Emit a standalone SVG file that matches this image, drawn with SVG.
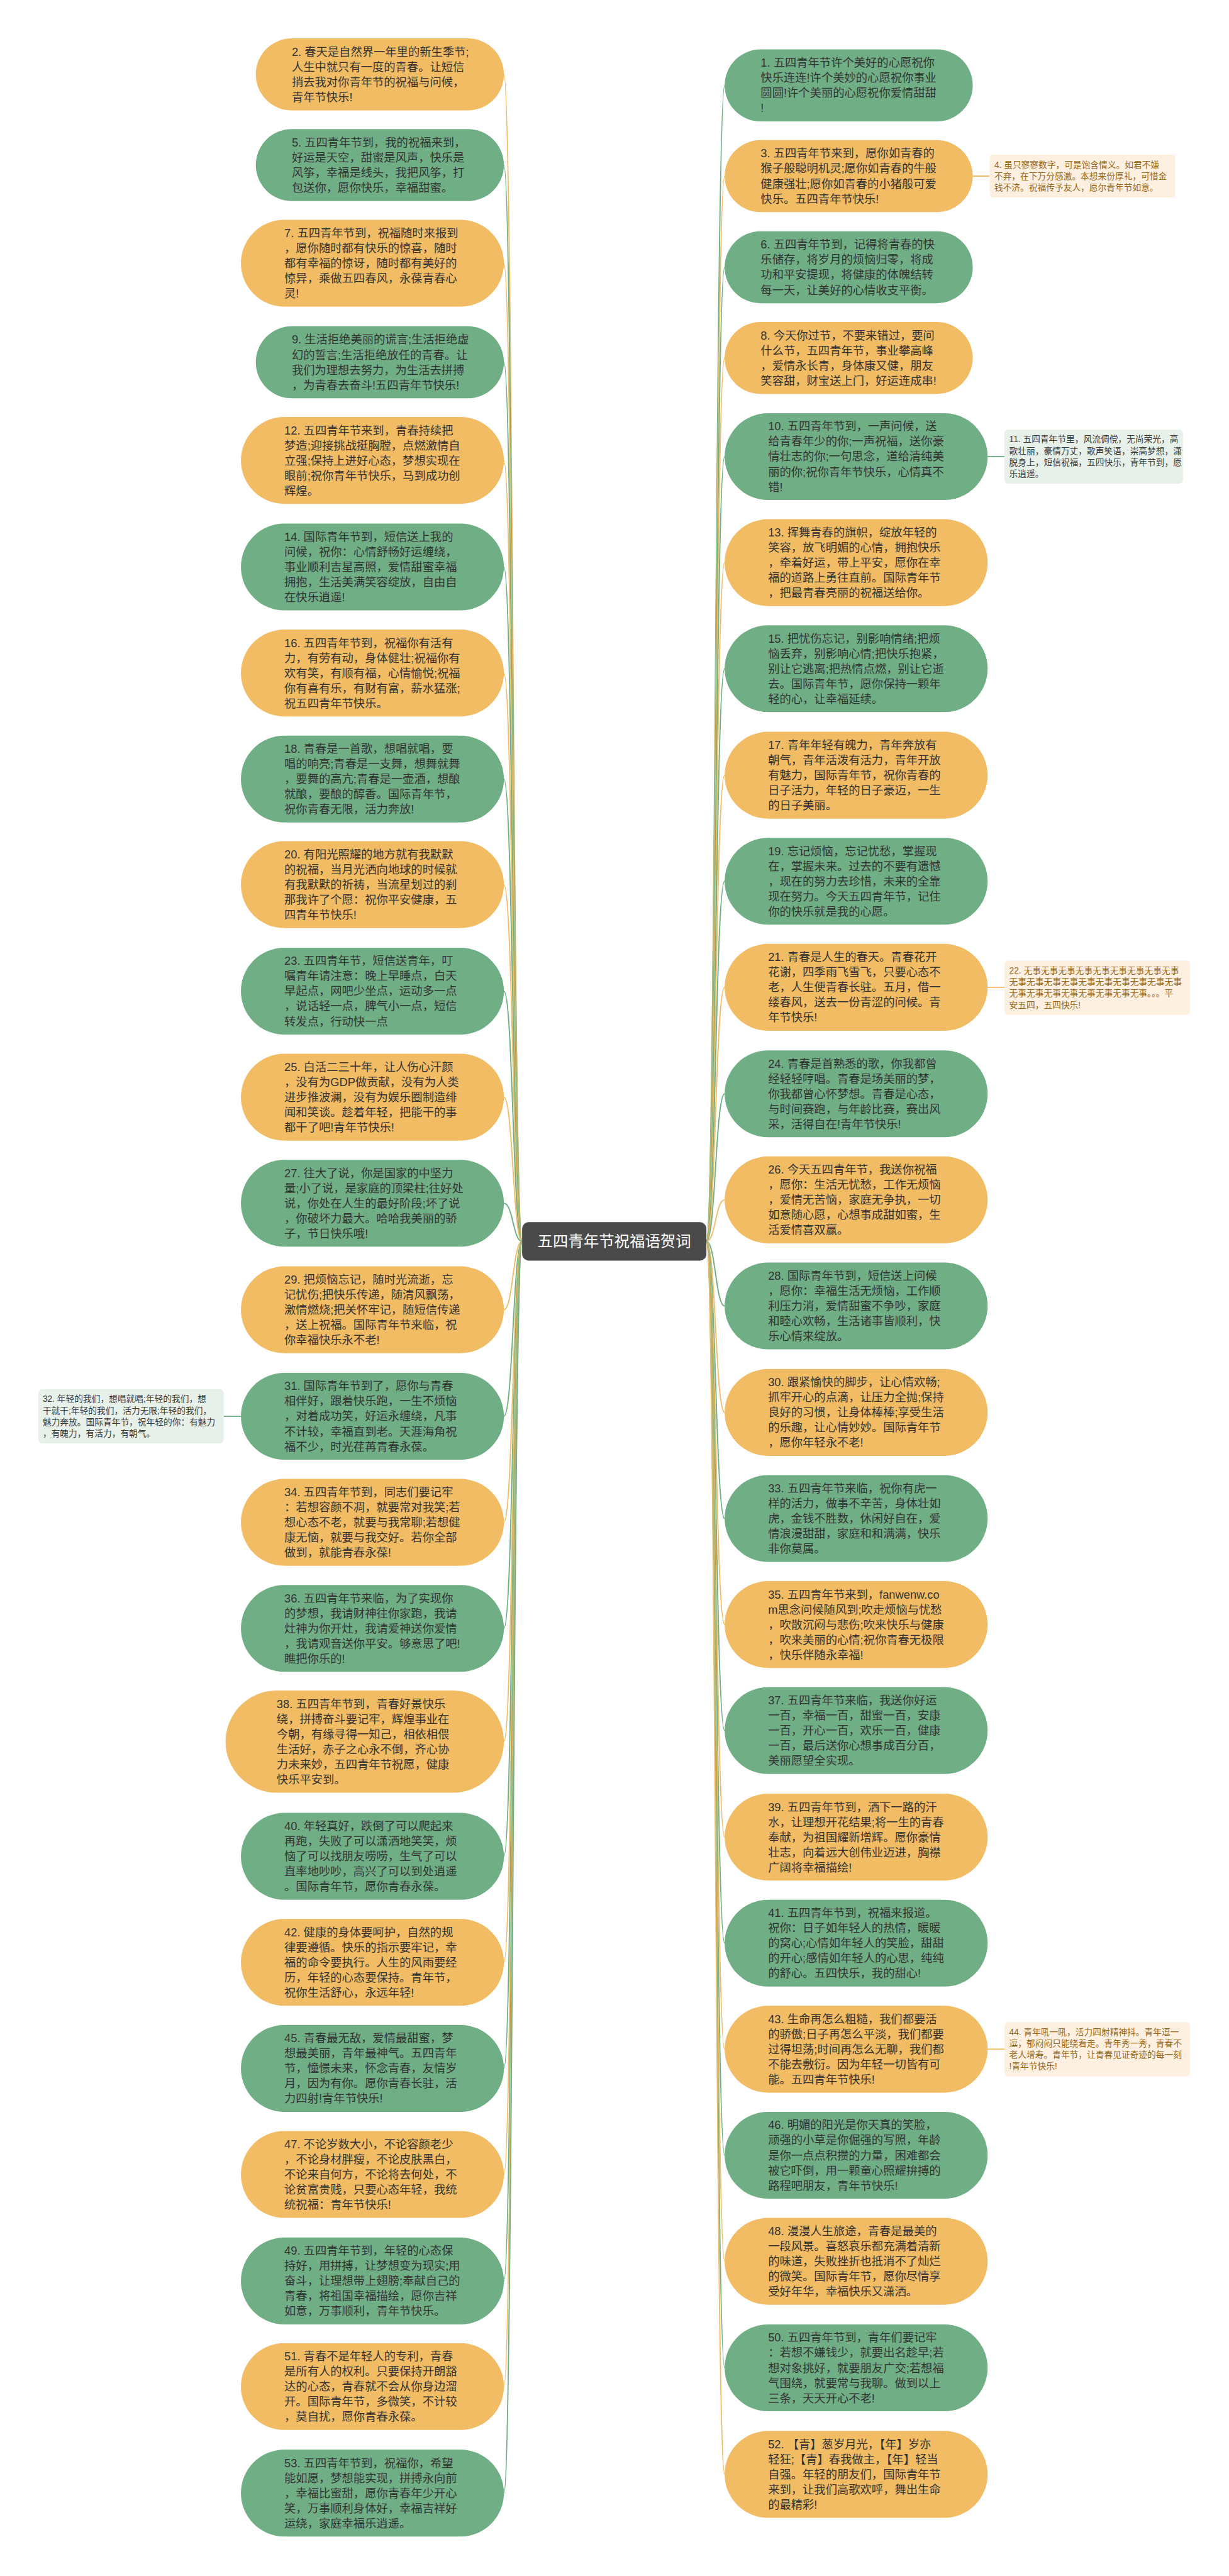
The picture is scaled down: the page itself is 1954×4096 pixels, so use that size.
<svg xmlns="http://www.w3.org/2000/svg" width="1954" height="4096" viewBox="0 0 1954 4096">
<style>
.o rect{fill:#F1BC63}
.g rect{fill:#70AF86}
.nt{font-family:"Liberation Sans","Noto Sans CJK SC",sans-serif;font-size:24px;fill:#333333}
.no rect{fill:#FDF0E1}
.ng rect{fill:#E7F0E9}
.no text{fill:#9A6716}
.ng text{fill:#3A3A3A}
.st{font-family:"Liberation Sans","Noto Sans CJK SC",sans-serif;font-size:18px}
.c{fill:none;stroke-width:2.5}
.co{stroke:#F1BC63}
.cg{stroke:#70AF86}
</style>
<rect width="1954" height="4096" fill="#ffffff"/>
<g transform="scale(0.763)">
<g id="connectors">
<path class="c co" d="M1088 2587C1069 2587 1069 155 1050 155"/>
<path class="c cg" d="M1088 2587C1069 2587 1069 344 1050 344"/>
<path class="c co" d="M1088 2587C1069 2587 1069 548.5 1050 548.5"/>
<path class="c cg" d="M1088 2587C1069 2587 1069 755 1050 755"/>
<path class="c co" d="M1088 2587C1069 2587 1069 959.5 1050 959.5"/>
<path class="c cg" d="M1088 2587C1069 2587 1069 1181.5 1050 1181.5"/>
<path class="c co" d="M1088 2587C1069 2587 1069 1402.5 1050 1402.5"/>
<path class="c cg" d="M1088 2587C1069 2587 1069 1623.5 1050 1623.5"/>
<path class="c co" d="M1088 2587C1069 2587 1069 1843.5 1050 1843.5"/>
<path class="c cg" d="M1088 2587C1069 2587 1069 2065.5 1050 2065.5"/>
<path class="c co" d="M1088 2587C1069 2587 1069 2286.5 1050 2286.5"/>
<path class="c cg" d="M1088 2587C1069 2587 1069 2507.5 1050 2507.5"/>
<path class="c co" d="M1088 2587C1069 2587 1069 2729.5 1050 2729.5"/>
<path class="c cg" d="M1088 2587C1069 2587 1069 2951.5 1050 2951.5"/>
<path class="c co" d="M1088 2587C1069 2587 1069 3172.5 1050 3172.5"/>
<path class="c cg" d="M1088 2587C1069 2587 1069 3393.5 1050 3393.5"/>
<path class="c co" d="M1088 2587C1069 2587 1069 3629.5 1050 3629.5"/>
<path class="c cg" d="M1088 2587C1069 2587 1069 3868.5 1050 3868.5"/>
<path class="c co" d="M1088 2587C1069 2587 1069 4089.5 1050 4089.5"/>
<path class="c cg" d="M1088 2587C1069 2587 1069 4310.5 1050 4310.5"/>
<path class="c co" d="M1088 2587C1069 2587 1069 4531.5 1050 4531.5"/>
<path class="c cg" d="M1088 2587C1069 2587 1069 4753.5 1050 4753.5"/>
<path class="c co" d="M1088 2587C1069 2587 1069 4973.5 1050 4973.5"/>
<path class="c cg" d="M1088 2587C1069 2587 1069 5195.5 1050 5195.5"/>
<path class="c cg" d="M1472 2587C1491 2587 1491 178 1510 178"/>
<path class="c co" d="M1472 2587C1491 2587 1491 367 1510 367"/>
<path class="c cg" d="M1472 2587C1491 2587 1491 557 1510 557"/>
<path class="c co" d="M1472 2587C1491 2587 1491 746 1510 746"/>
<path class="c cg" d="M1472 2587C1491 2587 1491 951.5 1510 951.5"/>
<path class="c co" d="M1472 2587C1491 2587 1491 1172.5 1510 1172.5"/>
<path class="c cg" d="M1472 2587C1491 2587 1491 1393.5 1510 1393.5"/>
<path class="c co" d="M1472 2587C1491 2587 1491 1615.5 1510 1615.5"/>
<path class="c cg" d="M1472 2587C1491 2587 1491 1836.5 1510 1836.5"/>
<path class="c co" d="M1472 2587C1491 2587 1491 2057.5 1510 2057.5"/>
<path class="c cg" d="M1472 2587C1491 2587 1491 2279.5 1510 2279.5"/>
<path class="c co" d="M1472 2587C1491 2587 1491 2500.5 1510 2500.5"/>
<path class="c cg" d="M1472 2587C1491 2587 1491 2721.5 1510 2721.5"/>
<path class="c co" d="M1472 2587C1491 2587 1491 2943.5 1510 2943.5"/>
<path class="c cg" d="M1472 2587C1491 2587 1491 3164.5 1510 3164.5"/>
<path class="c co" d="M1472 2587C1491 2587 1491 3385.5 1510 3385.5"/>
<path class="c cg" d="M1472 2587C1491 2587 1491 3606.5 1510 3606.5"/>
<path class="c co" d="M1472 2587C1491 2587 1491 3828.5 1510 3828.5"/>
<path class="c cg" d="M1472 2587C1491 2587 1491 4049.5 1510 4049.5"/>
<path class="c co" d="M1472 2587C1491 2587 1491 4270.5 1510 4270.5"/>
<path class="c cg" d="M1472 2587C1491 2587 1491 4491.5 1510 4491.5"/>
<path class="c co" d="M1472 2587C1491 2587 1491 4712.5 1510 4712.5"/>
<path class="c cg" d="M1472 2587C1491 2587 1491 4934.5 1510 4934.5"/>
<path class="c co" d="M1472 2587C1491 2587 1491 5156.5 1510 5156.5"/>
<path class="c co" d="M2027 367H2062"/>
<path class="c cg" d="M2058 951.5H2093"/>
<path class="c co" d="M2058 2057.5H2093"/>
<path class="c cg" d="M466 2951.5H502"/>
<path class="c co" d="M2058 4270.5H2093"/>
</g>

<g id="center">
<rect x="1088" y="2547" width="384" height="80" rx="14" fill="#4A4A4A"/>
<text x="1280" y="2598" text-anchor="middle" font-family="Liberation Sans, Noto Sans CJK SC, sans-serif" font-size="32" fill="#ffffff">五四青年节祝福语贺词</text>
</g>

<g id="n2" class="o"><rect x="533" y="80" width="517" height="150" rx="75"/><text class="nt" y="116.25"><tspan x="608">2. 春天是自然界一年里的新生季节;</tspan><tspan x="608" dy="31.5">人生中就只有一度的青春。让短信</tspan><tspan x="608" dy="31.5">捎去我对你青年节的祝福与问候，</tspan><tspan x="608" dy="31.5">青年节快乐!</tspan></text></g>
<g id="n5" class="g"><rect x="533" y="269" width="517" height="150" rx="75"/><text class="nt" y="305.25"><tspan x="608">5. 五四青年节到，我的祝福来到，</tspan><tspan x="608" dy="31.5">好运是天空，甜蜜是风声，快乐是</tspan><tspan x="608" dy="31.5">风筝，幸福是线头，我把风筝，打</tspan><tspan x="608" dy="31.5">包送你，愿你快乐，幸福甜蜜。</tspan></text></g>
<g id="n7" class="o"><rect x="502" y="458" width="548" height="181" rx="90.5"/><text class="nt" y="494"><tspan x="592.5">7. 五四青年节到，祝福随时来报到</tspan><tspan x="592.5" dy="31.5">，愿你随时都有快乐的惊喜，随时</tspan><tspan x="592.5" dy="31.5">都有幸福的惊讶，随时都有美好的</tspan><tspan x="592.5" dy="31.5">惊异，乘做五四春风，永葆青春心</tspan><tspan x="592.5" dy="31.5">灵!</tspan></text></g>
<g id="n9" class="g"><rect x="533" y="680" width="517" height="150" rx="75"/><text class="nt" y="716.25"><tspan x="608">9. 生活拒绝美丽的谎言;生活拒绝虚</tspan><tspan x="608" dy="31.5">幻的誓言;生活拒绝放任的青春。让</tspan><tspan x="608" dy="31.5">我们为理想去努力，为生活去拼搏</tspan><tspan x="608" dy="31.5">，为青春去奋斗!五四青年节快乐!</tspan></text></g>
<g id="n12" class="o"><rect x="502" y="869" width="548" height="181" rx="90.5"/><text class="nt" y="905"><tspan x="592.5">12. 五四青年节来到，青春持续把</tspan><tspan x="592.5" dy="31.5">梦造;迎接挑战挺胸膛，点燃激情自</tspan><tspan x="592.5" dy="31.5">立强;保持上进好心态，梦想实现在</tspan><tspan x="592.5" dy="31.5">眼前;祝你青年节快乐，马到成功创</tspan><tspan x="592.5" dy="31.5">辉煌。</tspan></text></g>
<g id="n14" class="g"><rect x="502" y="1091" width="548" height="181" rx="90.5"/><text class="nt" y="1127"><tspan x="592.5">14. 国际青年节到，短信送上我的</tspan><tspan x="592.5" dy="31.5">问候，祝你：心情舒畅好运缠绕，</tspan><tspan x="592.5" dy="31.5">事业顺利吉星高照，爱情甜蜜幸福</tspan><tspan x="592.5" dy="31.5">拥抱，生活美满笑容绽放，自由自</tspan><tspan x="592.5" dy="31.5">在快乐逍遥!</tspan></text></g>
<g id="n16" class="o"><rect x="502" y="1312" width="548" height="181" rx="90.5"/><text class="nt" y="1348"><tspan x="592.5">16. 五四青年节到，祝福你有活有</tspan><tspan x="592.5" dy="31.5">力，有劳有动，身体健壮;祝福你有</tspan><tspan x="592.5" dy="31.5">欢有笑，有顺有福，心情愉悦;祝福</tspan><tspan x="592.5" dy="31.5">你有喜有乐，有财有富，薪水猛涨;</tspan><tspan x="592.5" dy="31.5">祝五四青年节快乐。</tspan></text></g>
<g id="n18" class="g"><rect x="502" y="1533" width="548" height="181" rx="90.5"/><text class="nt" y="1569"><tspan x="592.5">18. 青春是一首歌，想唱就唱，要</tspan><tspan x="592.5" dy="31.5">唱的响亮;青春是一支舞，想舞就舞</tspan><tspan x="592.5" dy="31.5">，要舞的高亢;青春是一壶酒，想酿</tspan><tspan x="592.5" dy="31.5">就酿，要酿的醇香。国际青年节，</tspan><tspan x="592.5" dy="31.5">祝你青春无限，活力奔放!</tspan></text></g>
<g id="n20" class="o"><rect x="502" y="1753" width="548" height="181" rx="90.5"/><text class="nt" y="1789"><tspan x="592.5">20. 有阳光照耀的地方就有我默默</tspan><tspan x="592.5" dy="31.5">的祝福，当月光洒向地球的时候就</tspan><tspan x="592.5" dy="31.5">有我默默的祈祷，当流星划过的刹</tspan><tspan x="592.5" dy="31.5">那我许了个愿：祝你平安健康，五</tspan><tspan x="592.5" dy="31.5">四青年节快乐!</tspan></text></g>
<g id="n23" class="g"><rect x="502" y="1975" width="548" height="181" rx="90.5"/><text class="nt" y="2011"><tspan x="592.5">23. 五四青年节，短信送青年，叮</tspan><tspan x="592.5" dy="31.5">嘱青年请注意：晚上早睡点，白天</tspan><tspan x="592.5" dy="31.5">早起点，网吧少坐点，运动多一点</tspan><tspan x="592.5" dy="31.5">，说话轻一点，脾气小一点，短信</tspan><tspan x="592.5" dy="31.5">转发点，行动快一点</tspan></text></g>
<g id="n25" class="o"><rect x="502" y="2196" width="548" height="181" rx="90.5"/><text class="nt" y="2232"><tspan x="592.5">25. 白活二三十年，让人伤心汗颜</tspan><tspan x="592.5" dy="31.5">，没有为GDP做贡献，没有为人类</tspan><tspan x="592.5" dy="31.5">进步推波澜，没有为娱乐圈制造绯</tspan><tspan x="592.5" dy="31.5">闻和笑谈。趁着年轻，把能干的事</tspan><tspan x="592.5" dy="31.5">都干了吧!青年节快乐!</tspan></text></g>
<g id="n27" class="g"><rect x="502" y="2417" width="548" height="181" rx="90.5"/><text class="nt" y="2453"><tspan x="592.5">27. 往大了说，你是国家的中坚力</tspan><tspan x="592.5" dy="31.5">量;小了说，是家庭的顶梁柱;往好处</tspan><tspan x="592.5" dy="31.5">说，你处在人生的最好阶段;坏了说</tspan><tspan x="592.5" dy="31.5">，你破坏力最大。哈哈我美丽的骄</tspan><tspan x="592.5" dy="31.5">子，节日快乐哦!</tspan></text></g>
<g id="n29" class="o"><rect x="502" y="2639" width="548" height="181" rx="90.5"/><text class="nt" y="2675"><tspan x="592.5">29. 把烦恼忘记，随时光流逝，忘</tspan><tspan x="592.5" dy="31.5">记忧伤;把快乐传递，随清风飘荡，</tspan><tspan x="592.5" dy="31.5">激情燃烧;把关怀牢记，随短信传递</tspan><tspan x="592.5" dy="31.5">，送上祝福。国际青年节来临，祝</tspan><tspan x="592.5" dy="31.5">你幸福快乐永不老!</tspan></text></g>
<g id="n31" class="g"><rect x="502" y="2861" width="548" height="181" rx="90.5"/><text class="nt" y="2897"><tspan x="592.5">31. 国际青年节到了，愿你与青春</tspan><tspan x="592.5" dy="31.5">相伴好，跟着快乐跑，一生不烦恼</tspan><tspan x="592.5" dy="31.5">，对着成功笑，好运永缠绕，凡事</tspan><tspan x="592.5" dy="31.5">不计较，幸福直到老。天涯海角祝</tspan><tspan x="592.5" dy="31.5">福不少，时光荏苒青春永葆。</tspan></text></g>
<g id="n32" class="ng"><rect x="80" y="2895" width="386" height="113" rx="8"/><text class="st" y="2922"><tspan x="89">32. 年轻的我们，想唱就唱;年轻的我们，想</tspan><tspan x="89" dy="23.8">干就干;年轻的我们，活力无限;年轻的我们，</tspan><tspan x="89" dy="23.8">魅力奔放。国际青年节，祝年轻的你：有魅力</tspan><tspan x="89" dy="23.8">，有魄力，有活力，有朝气。</tspan></text></g>
<g id="n34" class="o"><rect x="502" y="3082" width="548" height="181" rx="90.5"/><text class="nt" y="3118"><tspan x="592.5">34. 五四青年节到，同志们要记牢</tspan><tspan x="592.5" dy="31.5">：若想容颜不凋，就要常对我笑;若</tspan><tspan x="592.5" dy="31.5">想心态不老，就要与我常聊;若想健</tspan><tspan x="592.5" dy="31.5">康无恼，就要与我交好。若你全部</tspan><tspan x="592.5" dy="31.5">做到，就能青春永葆!</tspan></text></g>
<g id="n36" class="g"><rect x="502" y="3303" width="548" height="181" rx="90.5"/><text class="nt" y="3339"><tspan x="592.5">36. 五四青年节来临，为了实现你</tspan><tspan x="592.5" dy="31.5">的梦想，我请财神往你家跑，我请</tspan><tspan x="592.5" dy="31.5">灶神为你开灶，我请爱神送你爱情</tspan><tspan x="592.5" dy="31.5">，我请观音送你平安。够意思了吧!</tspan><tspan x="592.5" dy="31.5">瞧把你乐的!</tspan></text></g>
<g id="n38" class="o"><rect x="470" y="3523" width="580" height="213" rx="106.5"/><text class="nt" y="3559.25"><tspan x="576.5">38. 五四青年节到，青春好景快乐</tspan><tspan x="576.5" dy="31.5">绕，拼搏奋斗要记牢，辉煌事业在</tspan><tspan x="576.5" dy="31.5">今朝，有缘寻得一知己，相依相偎</tspan><tspan x="576.5" dy="31.5">生活好，赤子之心永不倒，齐心协</tspan><tspan x="576.5" dy="31.5">力未来妙，五四青年节祝愿，健康</tspan><tspan x="576.5" dy="31.5">快乐平安到。</tspan></text></g>
<g id="n40" class="g"><rect x="502" y="3778" width="548" height="181" rx="90.5"/><text class="nt" y="3814"><tspan x="592.5">40. 年轻真好，跌倒了可以爬起来</tspan><tspan x="592.5" dy="31.5">再跑，失败了可以潇洒地笑笑，烦</tspan><tspan x="592.5" dy="31.5">恼了可以找朋友唠唠，生气了可以</tspan><tspan x="592.5" dy="31.5">直率地吵吵，高兴了可以到处逍遥</tspan><tspan x="592.5" dy="31.5">。国际青年节，愿你青春永葆。</tspan></text></g>
<g id="n42" class="o"><rect x="502" y="3999" width="548" height="181" rx="90.5"/><text class="nt" y="4035"><tspan x="592.5">42. 健康的身体要呵护，自然的规</tspan><tspan x="592.5" dy="31.5">律要遵循。快乐的指示要牢记，幸</tspan><tspan x="592.5" dy="31.5">福的命令要执行。人生的风雨要经</tspan><tspan x="592.5" dy="31.5">历，年轻的心态要保持。青年节，</tspan><tspan x="592.5" dy="31.5">祝你生活舒心，永远年轻!</tspan></text></g>
<g id="n45" class="g"><rect x="502" y="4220" width="548" height="181" rx="90.5"/><text class="nt" y="4256"><tspan x="592.5">45. 青春最无敌，爱情最甜蜜，梦</tspan><tspan x="592.5" dy="31.5">想最美丽，青年最神气。五四青年</tspan><tspan x="592.5" dy="31.5">节，憧憬未来，怀念青春，友情岁</tspan><tspan x="592.5" dy="31.5">月，因为有你。愿你青春长驻，活</tspan><tspan x="592.5" dy="31.5">力四射!青年节快乐!</tspan></text></g>
<g id="n47" class="o"><rect x="502" y="4441" width="548" height="181" rx="90.5"/><text class="nt" y="4477"><tspan x="592.5">47. 不论岁数大小，不论容颜老少</tspan><tspan x="592.5" dy="31.5">，不论身材胖瘦，不论皮肤黑白，</tspan><tspan x="592.5" dy="31.5">不论来自何方，不论将去何处，不</tspan><tspan x="592.5" dy="31.5">论贫富贵贱，只要心态年轻，我统</tspan><tspan x="592.5" dy="31.5">统祝福：青年节快乐!</tspan></text></g>
<g id="n49" class="g"><rect x="502" y="4663" width="548" height="181" rx="90.5"/><text class="nt" y="4699"><tspan x="592.5">49. 五四青年节到，年轻的心态保</tspan><tspan x="592.5" dy="31.5">持好，用拼搏，让梦想变为现实;用</tspan><tspan x="592.5" dy="31.5">奋斗，让理想带上翅膀;奉献自己的</tspan><tspan x="592.5" dy="31.5">青春，将祖国幸福描绘，愿你吉祥</tspan><tspan x="592.5" dy="31.5">如意，万事顺利，青年节快乐。</tspan></text></g>
<g id="n51" class="o"><rect x="502" y="4883" width="548" height="181" rx="90.5"/><text class="nt" y="4919"><tspan x="592.5">51. 青春不是年轻人的专利，青春</tspan><tspan x="592.5" dy="31.5">是所有人的权利。只要保持开朗豁</tspan><tspan x="592.5" dy="31.5">达的心态，青春就不会从你身边溜</tspan><tspan x="592.5" dy="31.5">开。国际青年节，多微笑，不计较</tspan><tspan x="592.5" dy="31.5">，莫自扰，愿你青春永葆。</tspan></text></g>
<g id="n53" class="g"><rect x="502" y="5105" width="548" height="181" rx="90.5"/><text class="nt" y="5141"><tspan x="592.5">53. 五四青年节到，祝福你，希望</tspan><tspan x="592.5" dy="31.5">能如愿，梦想能实现，拼搏永向前</tspan><tspan x="592.5" dy="31.5">，幸福比蜜甜，愿你青春年少开心</tspan><tspan x="592.5" dy="31.5">笑，万事顺利身体好，幸福吉祥好</tspan><tspan x="592.5" dy="31.5">运绕，家庭幸福乐逍遥。</tspan></text></g>

<g id="n1" class="g"><rect x="1510" y="103" width="517" height="150" rx="75"/><text class="nt" y="139.25"><tspan x="1585">1. 五四青年节许个美好的心愿祝你</tspan><tspan x="1585" dy="31.5">快乐连连!许个美妙的心愿祝你事业</tspan><tspan x="1585" dy="31.5">圆圆!许个美丽的心愿祝你爱情甜甜</tspan><tspan x="1585" dy="31.5">!</tspan></text></g>
<g id="n3" class="o"><rect x="1510" y="292" width="517" height="150" rx="75"/><text class="nt" y="328.25"><tspan x="1585">3. 五四青年节来到，愿你如青春的</tspan><tspan x="1585" dy="31.5">猴子般聪明机灵;愿你如青春的牛般</tspan><tspan x="1585" dy="31.5">健康强壮;愿你如青春的小猪般可爱</tspan><tspan x="1585" dy="31.5">快乐。五四青年节快乐!</tspan></text></g>
<g id="n4" class="no"><rect x="2062" y="322" width="387" height="90" rx="8"/><text class="st" y="349.5"><tspan x="2072">4. 虽只寥寥数字，可是饱含情义。如君不嫌</tspan><tspan x="2072" dy="23.8">不弃，在下万分感激。本想来份厚礼，可惜金</tspan><tspan x="2072" dy="23.8">钱不济。祝福传予友人，愿尔青年节如意。</tspan></text></g>
<g id="n6" class="g"><rect x="1510" y="482" width="517" height="150" rx="75"/><text class="nt" y="518.25"><tspan x="1585">6. 五四青年节到，记得将青春的快</tspan><tspan x="1585" dy="31.5">乐储存，将岁月的烦恼归零，将成</tspan><tspan x="1585" dy="31.5">功和平安提现，将健康的体魄结转</tspan><tspan x="1585" dy="31.5">每一天，让美好的心情收支平衡。</tspan></text></g>
<g id="n8" class="o"><rect x="1510" y="671" width="517" height="150" rx="75"/><text class="nt" y="707.25"><tspan x="1585">8. 今天你过节，不要来错过，要问</tspan><tspan x="1585" dy="31.5">什么节，五四青年节，事业攀高峰</tspan><tspan x="1585" dy="31.5">，爱情永长青，身体康又健，朋友</tspan><tspan x="1585" dy="31.5">笑容甜，财宝送上门，好运连成串!</tspan></text></g>
<g id="n10" class="g"><rect x="1510" y="861" width="548" height="181" rx="90.5"/><text class="nt" y="897"><tspan x="1600.5">10. 五四青年节到，一声问候，送</tspan><tspan x="1600.5" dy="31.5">给青春年少的你;一声祝福，送你豪</tspan><tspan x="1600.5" dy="31.5">情壮志的你;一句思念，道给清纯美</tspan><tspan x="1600.5" dy="31.5">丽的你;祝你青年节快乐，心情真不</tspan><tspan x="1600.5" dy="31.5">错!</tspan></text></g>
<g id="n11" class="ng"><rect x="2093" y="895" width="372" height="113" rx="8"/><text class="st" y="922"><tspan x="2103">11. 五四青年节里，风流倜傥，无尚荣光，高</tspan><tspan x="2103" dy="23.8">歌壮丽，豪情万丈，歌声笑语，崇高梦想，潇</tspan><tspan x="2103" dy="23.8">脱身上，短信祝福，五四快乐，青年节到，愿</tspan><tspan x="2103" dy="23.8">乐逍遥。</tspan></text></g>
<g id="n13" class="o"><rect x="1510" y="1082" width="548" height="181" rx="90.5"/><text class="nt" y="1118"><tspan x="1600.5">13. 挥舞青春的旗帜，绽放年轻的</tspan><tspan x="1600.5" dy="31.5">笑容，放飞明媚的心情，拥抱快乐</tspan><tspan x="1600.5" dy="31.5">，牵着好运，带上平安，愿你在幸</tspan><tspan x="1600.5" dy="31.5">福的道路上勇往直前。国际青年节</tspan><tspan x="1600.5" dy="31.5">，把最青春亮丽的祝福送给你。</tspan></text></g>
<g id="n15" class="g"><rect x="1510" y="1303" width="548" height="181" rx="90.5"/><text class="nt" y="1339"><tspan x="1600.5">15. 把忧伤忘记，别影响情绪;把烦</tspan><tspan x="1600.5" dy="31.5">恼丢弃，别影响心情;把快乐抱紧，</tspan><tspan x="1600.5" dy="31.5">别让它逃离;把热情点燃，别让它逝</tspan><tspan x="1600.5" dy="31.5">去。国际青年节，愿你保持一颗年</tspan><tspan x="1600.5" dy="31.5">轻的心，让幸福延续。</tspan></text></g>
<g id="n17" class="o"><rect x="1510" y="1525" width="548" height="181" rx="90.5"/><text class="nt" y="1561"><tspan x="1600.5">17. 青年年轻有魄力，青年奔放有</tspan><tspan x="1600.5" dy="31.5">朝气，青年活泼有活力，青年开放</tspan><tspan x="1600.5" dy="31.5">有魅力，国际青年节，祝你青春的</tspan><tspan x="1600.5" dy="31.5">日子活力，年轻的日子豪迈，一生</tspan><tspan x="1600.5" dy="31.5">的日子美丽。</tspan></text></g>
<g id="n19" class="g"><rect x="1510" y="1746" width="548" height="181" rx="90.5"/><text class="nt" y="1782"><tspan x="1600.5">19. 忘记烦恼，忘记忧愁，掌握现</tspan><tspan x="1600.5" dy="31.5">在，掌握未来。过去的不要有遗憾</tspan><tspan x="1600.5" dy="31.5">，现在的努力去珍惜，未来的全靠</tspan><tspan x="1600.5" dy="31.5">现在努力。今天五四青年节，记住</tspan><tspan x="1600.5" dy="31.5">你的快乐就是我的心愿。</tspan></text></g>
<g id="n21" class="o"><rect x="1510" y="1967" width="548" height="181" rx="90.5"/><text class="nt" y="2003"><tspan x="1600.5">21. 青春是人生的春天。青春花开</tspan><tspan x="1600.5" dy="31.5">花谢，四季雨飞雪飞，只要心态不</tspan><tspan x="1600.5" dy="31.5">老，人生便青春长驻。五月，借一</tspan><tspan x="1600.5" dy="31.5">缕春风，送去一份青涩的问候。青</tspan><tspan x="1600.5" dy="31.5">年节快乐!</tspan></text></g>
<g id="n22" class="no"><rect x="2093" y="2002" width="387" height="113" rx="8"/><text class="st" y="2029"><tspan x="2103">22. 无事无事无事无事无事无事无事无事无事</tspan><tspan x="2103" dy="23.8">无事无事无事无事无事无事无事无事无事无事</tspan><tspan x="2103" dy="23.8">无事无事无事无事无事无事无事无事。。。平</tspan><tspan x="2103" dy="23.8">安五四，五四快乐!</tspan></text></g>
<g id="n24" class="g"><rect x="1510" y="2189" width="548" height="181" rx="90.5"/><text class="nt" y="2225"><tspan x="1600.5">24. 青春是首熟悉的歌，你我都曾</tspan><tspan x="1600.5" dy="31.5">经轻轻哼唱。青春是场美丽的梦，</tspan><tspan x="1600.5" dy="31.5">你我都曾心怀梦想。青春是心态，</tspan><tspan x="1600.5" dy="31.5">与时间赛跑，与年龄比赛，赛出风</tspan><tspan x="1600.5" dy="31.5">采，活得自在!青年节快乐!</tspan></text></g>
<g id="n26" class="o"><rect x="1510" y="2410" width="548" height="181" rx="90.5"/><text class="nt" y="2446"><tspan x="1600.5">26. 今天五四青年节，我送你祝福</tspan><tspan x="1600.5" dy="31.5">，愿你：生活无忧愁，工作无烦恼</tspan><tspan x="1600.5" dy="31.5">，爱情无苦恼，家庭无争执，一切</tspan><tspan x="1600.5" dy="31.5">如意随心愿，心想事成甜如蜜，生</tspan><tspan x="1600.5" dy="31.5">活爱情喜双赢。</tspan></text></g>
<g id="n28" class="g"><rect x="1510" y="2631" width="548" height="181" rx="90.5"/><text class="nt" y="2667"><tspan x="1600.5">28. 国际青年节到，短信送上问候</tspan><tspan x="1600.5" dy="31.5">，愿你：幸福生活无烦恼，工作顺</tspan><tspan x="1600.5" dy="31.5">利压力消，爱情甜蜜不争吵，家庭</tspan><tspan x="1600.5" dy="31.5">和睦心欢畅，生活诸事皆顺利，快</tspan><tspan x="1600.5" dy="31.5">乐心情来绽放。</tspan></text></g>
<g id="n30" class="o"><rect x="1510" y="2853" width="548" height="181" rx="90.5"/><text class="nt" y="2889"><tspan x="1600.5">30. 跟紧愉快的脚步，让心情欢畅;</tspan><tspan x="1600.5" dy="31.5">抓牢开心的点滴，让压力全抛;保持</tspan><tspan x="1600.5" dy="31.5">良好的习惯，让身体棒棒;享受生活</tspan><tspan x="1600.5" dy="31.5">的乐趣，让心情妙妙。国际青年节</tspan><tspan x="1600.5" dy="31.5">，愿你年轻永不老!</tspan></text></g>
<g id="n33" class="g"><rect x="1510" y="3074" width="548" height="181" rx="90.5"/><text class="nt" y="3110"><tspan x="1600.5">33. 五四青年节来临，祝你有虎一</tspan><tspan x="1600.5" dy="31.5">样的活力，做事不辛苦，身体壮如</tspan><tspan x="1600.5" dy="31.5">虎，金钱不胜数，休闲好自在，爱</tspan><tspan x="1600.5" dy="31.5">情浪漫甜甜，家庭和和满满，快乐</tspan><tspan x="1600.5" dy="31.5">非你莫属。</tspan></text></g>
<g id="n35" class="o"><rect x="1510" y="3295" width="548" height="181" rx="90.5"/><text class="nt" y="3331"><tspan x="1600.5">35. 五四青年节来到，fanwenw.co</tspan><tspan x="1600.5" dy="31.5">m思念问候随风到;吹走烦恼与忧愁</tspan><tspan x="1600.5" dy="31.5">，吹散沉闷与悲伤;吹来快乐与健康</tspan><tspan x="1600.5" dy="31.5">，吹来美丽的心情;祝你青春无极限</tspan><tspan x="1600.5" dy="31.5">，快乐伴随永幸福!</tspan></text></g>
<g id="n37" class="g"><rect x="1510" y="3516" width="548" height="181" rx="90.5"/><text class="nt" y="3552"><tspan x="1600.5">37. 五四青年节来临，我送你好运</tspan><tspan x="1600.5" dy="31.5">一百，幸福一百，甜蜜一百，安康</tspan><tspan x="1600.5" dy="31.5">一百，开心一百，欢乐一百，健康</tspan><tspan x="1600.5" dy="31.5">一百，最后送你心想事成百分百，</tspan><tspan x="1600.5" dy="31.5">美丽愿望全实现。</tspan></text></g>
<g id="n39" class="o"><rect x="1510" y="3738" width="548" height="181" rx="90.5"/><text class="nt" y="3774"><tspan x="1600.5">39. 五四青年节到，洒下一路的汗</tspan><tspan x="1600.5" dy="31.5">水，让理想开花结果;将一生的青春</tspan><tspan x="1600.5" dy="31.5">奉献，为祖国耀新增辉。愿你豪情</tspan><tspan x="1600.5" dy="31.5">壮志，向着远大创伟业迈进，胸襟</tspan><tspan x="1600.5" dy="31.5">广阔将幸福描绘!</tspan></text></g>
<g id="n41" class="g"><rect x="1510" y="3959" width="548" height="181" rx="90.5"/><text class="nt" y="3995"><tspan x="1600.5">41. 五四青年节到，祝福来报道。</tspan><tspan x="1600.5" dy="31.5">祝你：日子如年轻人的热情，暖暖</tspan><tspan x="1600.5" dy="31.5">的窝心;心情如年轻人的笑脸，甜甜</tspan><tspan x="1600.5" dy="31.5">的开心;感情如年轻人的心思，纯纯</tspan><tspan x="1600.5" dy="31.5">的舒心。五四快乐，我的甜心!</tspan></text></g>
<g id="n43" class="o"><rect x="1510" y="4180" width="548" height="181" rx="90.5"/><text class="nt" y="4216"><tspan x="1600.5">43. 生命再怎么粗糙，我们都要活</tspan><tspan x="1600.5" dy="31.5">的骄傲;日子再怎么平淡，我们都要</tspan><tspan x="1600.5" dy="31.5">过得坦荡;时间再怎么无聊，我们都</tspan><tspan x="1600.5" dy="31.5">不能去敷衍。因为年轻一切皆有可</tspan><tspan x="1600.5" dy="31.5">能。五四青年节快乐!</tspan></text></g>
<g id="n44" class="no"><rect x="2093" y="4214" width="387" height="113" rx="8"/><text class="st" y="4241"><tspan x="2103">44. 青年吼一吼，活力四射精神抖。青年逗一</tspan><tspan x="2103" dy="23.8">逗，郁闷闷只能绕着走。青年秀一秀，青春不</tspan><tspan x="2103" dy="23.8">老人增寿。青年节，让青春见证奇迹的每一刻</tspan><tspan x="2103" dy="23.8">!青年节快乐!</tspan></text></g>
<g id="n46" class="g"><rect x="1510" y="4401" width="548" height="181" rx="90.5"/><text class="nt" y="4437"><tspan x="1600.5">46. 明媚的阳光是你天真的笑脸，</tspan><tspan x="1600.5" dy="31.5">顽强的小草是你倔强的写照，年龄</tspan><tspan x="1600.5" dy="31.5">是你一点点积攒的力量，困难都会</tspan><tspan x="1600.5" dy="31.5">被它吓倒，用一颗童心照耀拚搏的</tspan><tspan x="1600.5" dy="31.5">路程吧朋友，青年节快乐!</tspan></text></g>
<g id="n48" class="o"><rect x="1510" y="4622" width="548" height="181" rx="90.5"/><text class="nt" y="4658"><tspan x="1600.5">48. 漫漫人生旅途，青春是最美的</tspan><tspan x="1600.5" dy="31.5">一段风景。喜怒哀乐都充满着清新</tspan><tspan x="1600.5" dy="31.5">的味道，失败挫折也抵消不了灿烂</tspan><tspan x="1600.5" dy="31.5">的微笑。国际青年节，愿你尽情享</tspan><tspan x="1600.5" dy="31.5">受好年华，幸福快乐又潇洒。</tspan></text></g>
<g id="n50" class="g"><rect x="1510" y="4844" width="548" height="181" rx="90.5"/><text class="nt" y="4880"><tspan x="1600.5">50. 五四青年节到，青年们要记牢</tspan><tspan x="1600.5" dy="31.5">：若想不嫌钱少，就要出名趁早;若</tspan><tspan x="1600.5" dy="31.5">想对象挑好，就要朋友广交;若想福</tspan><tspan x="1600.5" dy="31.5">气围绕，就要常与我聊。做到以上</tspan><tspan x="1600.5" dy="31.5">三条，天天开心不老!</tspan></text></g>
<g id="n52" class="o"><rect x="1510" y="5066" width="548" height="181" rx="90.5"/><text class="nt" y="5102"><tspan x="1600.5">52. 【青】葱岁月光，【年】岁亦</tspan><tspan x="1600.5" dy="31.5">轻狂;【青】春我做主，【年】轻当</tspan><tspan x="1600.5" dy="31.5">自强。年轻的朋友们，国际青年节</tspan><tspan x="1600.5" dy="31.5">来到，让我们高歌欢呼，舞出生命</tspan><tspan x="1600.5" dy="31.5">的最精彩!</tspan></text></g>
</g>
</svg>
